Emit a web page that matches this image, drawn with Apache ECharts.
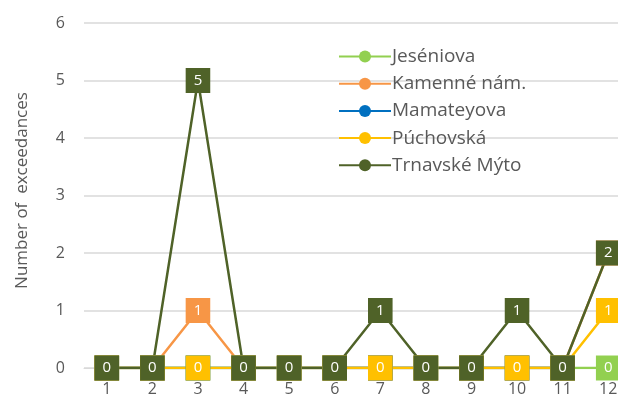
<!DOCTYPE html>
<html>
<head>
<meta charset="utf-8">
<script src="https://cdn.jsdelivr.net/npm/echarts@6/dist/echarts.min.js"></script>
<style>
    html, body { margin: 0; padding: 0; background: #fff; }
    #chart { width: 618px; height: 401px; }
</style>
</head>
<body>
<div id="chart"></div>
<script>
var months = ['1', '2', '3', '4', '5', '6', '7', '8', '9', '10', '11', '12'];
var yTicks = [0, 1, 2, 3, 4, 5, 6];

var names = ['Jeséniova', 'Kamenné nám.', 'Mamateyova', 'Púchovská', 'Trnavské Mýto'];
var colors = ['#92D050', '#F79646', '#0070C0', '#FFC000', '#4F6228'];

var jeseniova = [0, 0, 0, 0, 0, 0, 0, 0, 0, 0, 0, 0];
var kamenne = [0, 0, 1, 0, 0, 0, 0, 0, 0, 0, 0, 2];
var mamateyova = [0, 0, 0, 0, 0, 0, 0, 0, 0, 0, 0, null];
var puchovska = [0, 0, 0, 0, 0, 0, 0, 0, 0, 0, 0, 1];
var trnavske = [0, 0, 5, 0, 0, 0, 1, 0, 0, 1, 0, 2];

var allData = [jeseniova, kamenne, mamateyova, puchovska, trnavske];
var fontFam = '"Open Sans", "Noto Sans", sans-serif';

function makeSeries(i) {
    return {
        name: names[i],
        type: 'line',
        data: allData[i],
        symbol: 'circle',
        symbolSize: 8,
        showSymbol: true,
        lineStyle: { width: 2.5, color: colors[i] },
        itemStyle: { color: colors[i] },
        label: {
            show: true,
            position: 'inside',
            backgroundColor: colors[i],
            color: '#fff',
            fontFamily: fontFam,
            fontSize: 15,
            padding: [4, 8],
            lineHeight: 17
        },
        labelLayout: { hideOverlap: false },
        emphasis: { disabled: true },
        animation: false
    };
}

var series = [];
for (var i = 0; i < names.length; i++) {
    series.push(makeSeries(i));
}

var chart = echarts.init(document.getElementById('chart'));
chart.setOption({
    animation: false,
    color: colors,
    textStyle: { fontFamily: fontFam },
    grid: { left: 84, width: 547, top: 23, bottom: 33, containLabel: false, outerBoundsMode: 'none' },
    legend: {
        orient: 'vertical',
        left: 333,
        top: 42,
        itemWidth: 52,
        itemHeight: 15,
        itemGap: 8.2,
        data: names,
        textStyle: { color: '#595959', fontSize: 19, fontFamily: fontFam, padding: [0, 0, 0, -4] }
    },
    xAxis: {
        type: 'category',
        data: months,
        boundaryGap: true,
        axisLine: { lineStyle: { color: '#d9d9d9', width: 1 } },
        axisTick: { show: false },
        axisLabel: { color: '#595959', fontSize: 16, margin: 13 }
    },
    yAxis: {
        type: 'value',
        min: yTicks[0],
        max: yTicks[yTicks.length - 1],
        interval: 1,
        name: 'Number of  exceedances',
        nameLocation: 'middle',
        nameGap: 53,
        nameTextStyle: { color: '#595959', fontSize: 17, padding: [0, 0, 0, 10] },
        axisLine: { show: false },
        axisTick: { show: false },
        axisLabel: { color: '#595959', fontSize: 16, margin: 19 },
        splitLine: { lineStyle: { color: '#d9d9d9', width: 1.5 } }
    },
    series: series
});
</script>
</body>
</html>
